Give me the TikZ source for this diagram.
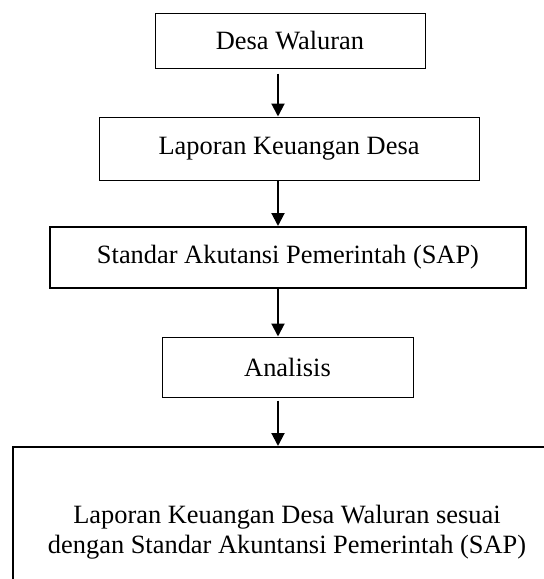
\documentclass[tikz,border=0pt]{standalone}
\usepackage{fontspec}
\setmainfont{Liberation Serif}
\usetikzlibrary{arrows.meta}

\begin{document}
\begin{tikzpicture}[x=0.5pt, y=-0.5pt,
        font=\fontsize{13.2}{15}\selectfont,
        kotak/.style={draw, line width=0.5pt, inner sep=0pt, align=center},
        kotaktebal/.style={kotak, line width=1pt},
        panah/.style={-{Triangle[length=6.5pt,width=6.5pt]}, line width=1pt}]
        \useasboundingbox (0,0) rectangle (544,579);
        \clip (0,0) rectangle (544,579);
        \coordinate (sumbu) at (278,0);

        \node[kotak, minimum width=135pt, minimum height=27.5pt] (desa) at (290,40.5) {Desa Waluran};
        \node[kotak, minimum width=190pt, minimum height=31.5pt] (lapkeu) at (289,148.5) {Laporan Keuangan Desa};
        \node[kotaktebal, minimum width=238pt, minimum height=30.5pt] (sap) at (288,257.5) {Standar Akutansi Pemerintah (SAP)};
        \node[kotak, minimum width=125.5pt, minimum height=30pt] (analisis) at (287.5,367) {Analisis};
        \node[kotaktebal, minimum width=274pt, minimum height=85pt] (hasil) at (287,532)
            {Laporan Keuangan Desa Waluran sesuai\\dengan Standar Akuntansi Pemerintah (SAP)};

        \draw[panah, shorten <=2.5pt] (desa.south -| sumbu) -- (lapkeu.north -| sumbu);
        \draw[panah] (lapkeu.south -| sumbu) -- (sap.north -| sumbu);
        \draw[panah] (sap.south -| sumbu) -- (analisis.north -| sumbu);
        \draw[panah, shorten <=1.5pt] (analisis.south -| sumbu) -- (hasil.north -| sumbu);
    \end{tikzpicture}
\end{document}
